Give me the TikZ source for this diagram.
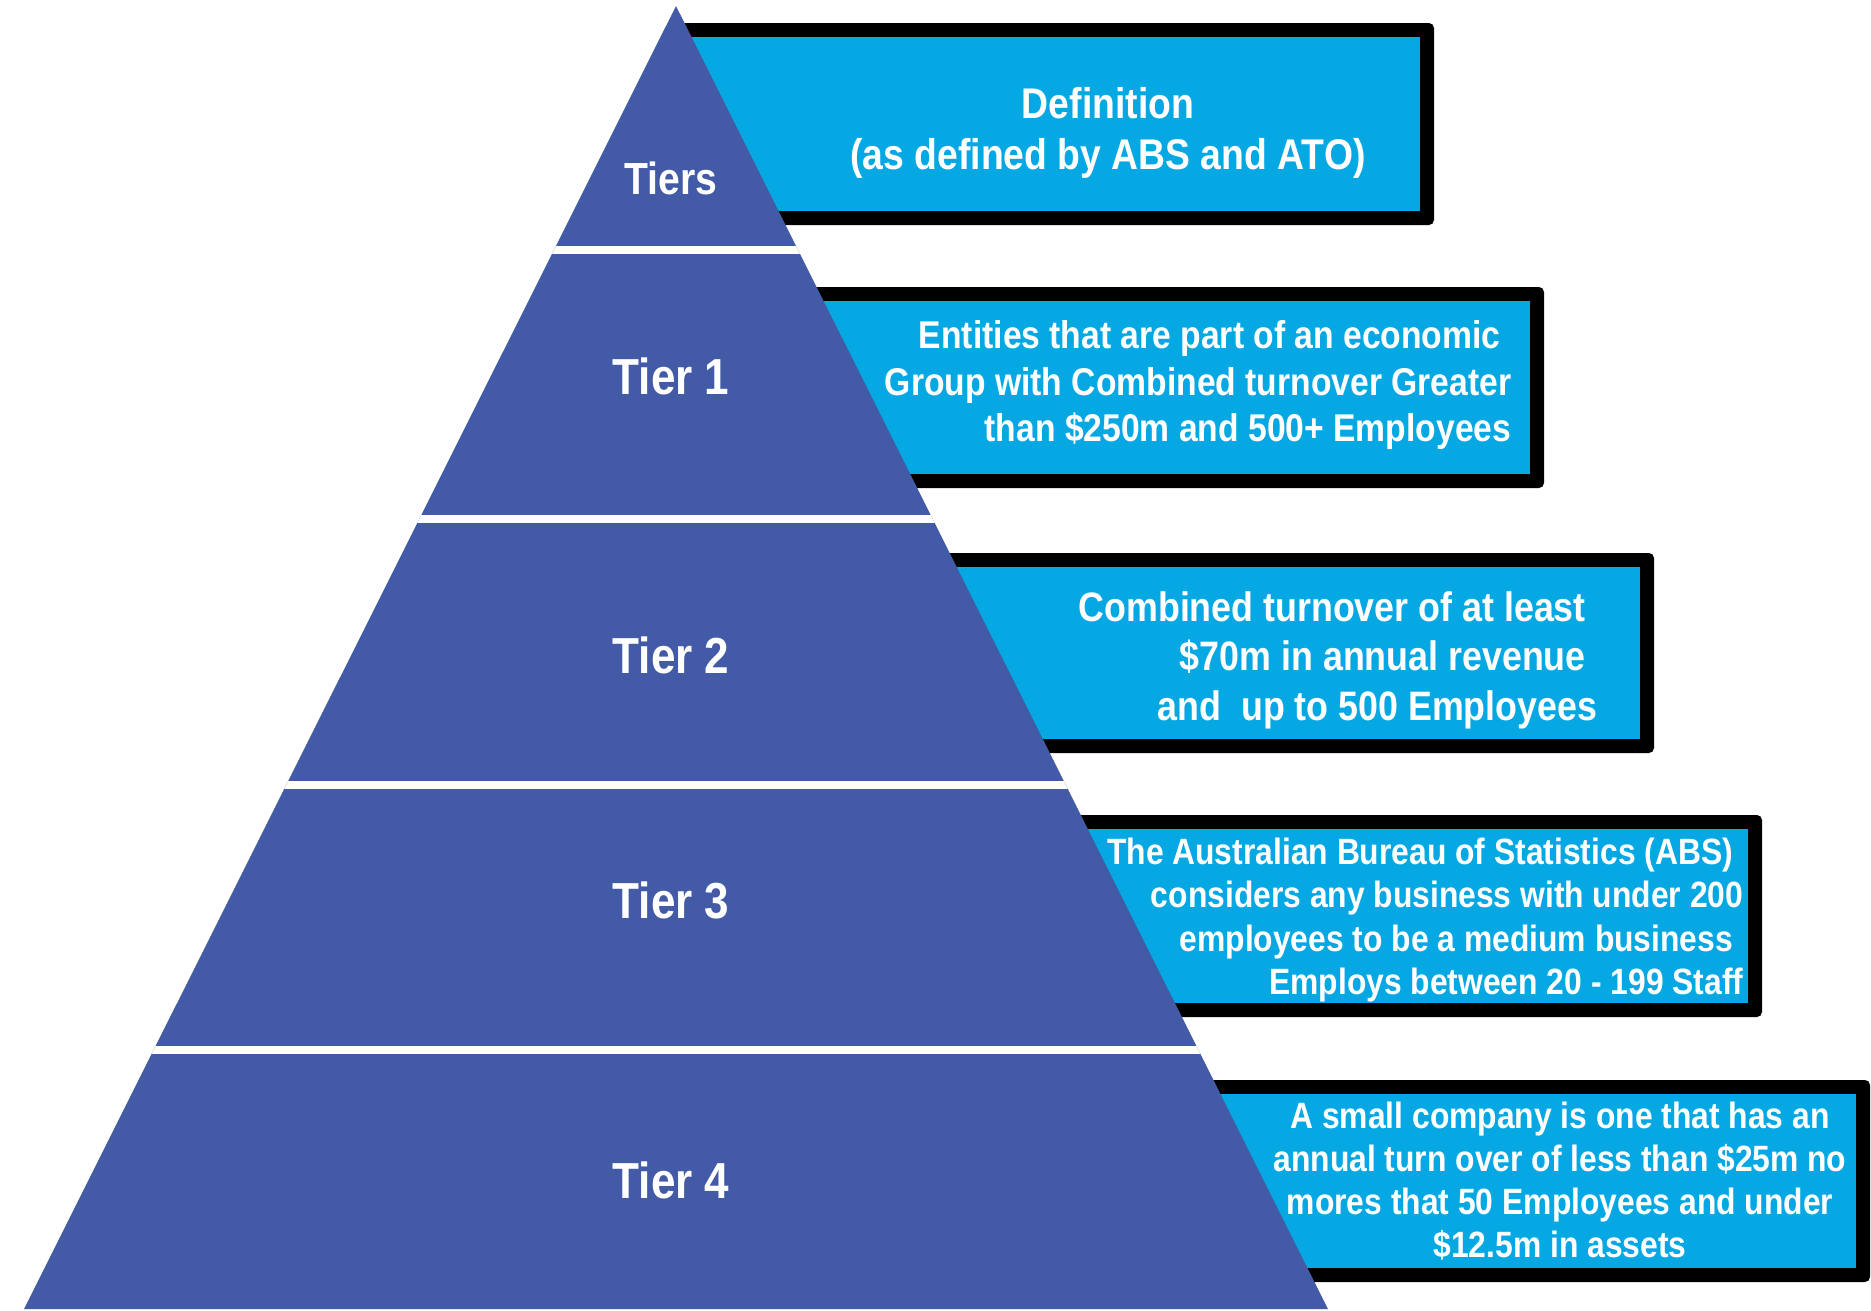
\documentclass[tikz,border=0pt]{standalone}
\usepackage{fontspec}
\setmainfont{Liberation Sans}[FakeStretch=0.87]
\definecolor{pyr}{HTML}{435BA6}
\definecolor{sky}{HTML}{06A8E4}

\begin{document}
\begin{tikzpicture}[x=0.01cm,y=-0.01cm,
  txt/.style 2 args={text=white,inner sep=0pt,font=\bfseries\fontsize{#1}{#2}\selectfont},
  gap/.style={white,line width=0.08cm}]
\useasboundingbox (0,0) rectangle (1871,1311);
\foreach \t/\b/\r in {23/225/1434,287/488/1544,553/753/1654,815/1017/1762,1080/1282/1870}{
  \fill[black,rounded corners=0.05cm] (676,\t) rectangle (\r,\b);
  \fill[sky] (676,\t+14) rectangle (\r-14,\b-14);
}
\fill[pyr] (676,6) -- (1328,1309) -- (24,1309) -- cycle;
\begin{scope}
  \clip (676,6) -- (1328,1309) -- (24,1309) -- cycle;
  \foreach \y in {250,519,785,1050} \draw[gap] (0,\y) -- (1400,\y);
\end{scope}
\node[txt={12.8}{15}] (tiers) at (671,178) {Tiers};
\node[txt={14.4}{17}] (tier1) at (671,376) {Tier 1};
\node[txt={14.4}{17}] (tier2) at (671,655) {Tier 2};
\node[txt={14.4}{17}] (tier3) at (671,900) {Tier 3};
\node[txt={14.4}{17}] (tier4) at (671,1180) {Tier 4};
\node[txt={12.2}{14.6},align=center] (def) at (1108,133)
  {Definition\\(as defined by ABS and ATO)};
\node[txt={11}{13.2},align=right,anchor=east] (def1) at (1512,385)
  {Entities that are part of an economic\kern.28em\\Group with Combined turnover Greater\\than \$250m and 500+ Employees};
\node[txt={11.7}{14.1},align=right,anchor=east] (def2) at (1598,660)
  {Combined turnover of at least\kern.28em\\\$70m in annual revenue\kern.28em\\and\ \ up to 500 Employees};
\node[txt={10.4}{12.3},align=right,anchor=east] (def3) at (1744,920)
  {The Australian Bureau of Statistics (ABS)\kern.28em\\considers any business with under 200\\employees to be a medium business\kern.28em\\Employs between 20 - 199 Staff};
\node[txt={10.4}{12.2},align=center] (def4) at (1560,1181)
  {A small company is one that has an\\annual turn over of less than \$25m no\\mores that 50 Employees and under\\\$12.5m in assets};
\end{tikzpicture}
\end{document}
